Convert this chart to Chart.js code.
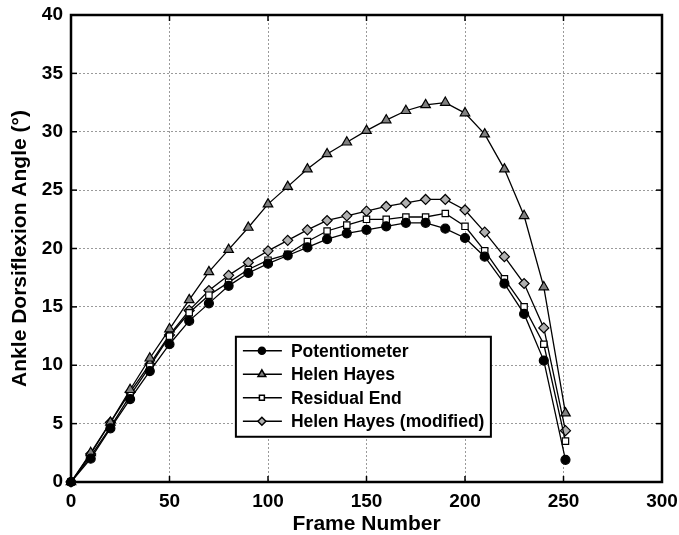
<!DOCTYPE html>
<html>
<head>
<meta charset="utf-8">
<script src="https://cdn.jsdelivr.net/npm/chart.js@4"></script>
<style>
  html, body { margin: 0; padding: 0; background: #fff; }
  #wrap { width: 679px; height: 535px; }
</style>
</head>
<body>
<div id="wrap"><canvas id="ankleChart" width="679" height="535"></canvas></div>
<script>
const frames = [0, 10, 20, 30, 40, 50, 60, 70, 80, 90, 100, 110, 120, 130, 140, 150, 160, 170, 180, 190, 200, 210, 220, 230, 240, 251];
const potentiometer = [0, 2.0, 4.6, 7.1, 9.5, 11.8, 13.8, 15.3, 16.8, 17.9, 18.7, 19.4, 20.1, 20.8, 21.3, 21.6, 21.9, 22.2, 22.2, 21.7, 20.9, 19.3, 17.0, 14.4, 10.4, 1.9];
const helenHayes = [0, 2.5, 5.1, 7.9, 10.6, 13.1, 15.6, 18.0, 19.9, 21.8, 23.8, 25.3, 26.8, 28.1, 29.1, 30.1, 31.0, 31.8, 32.3, 32.5, 31.6, 29.8, 26.8, 22.8, 16.7, 5.9];
const residualEnd = [0, 2.2, 4.7, 7.4, 9.9, 12.5, 14.5, 16.0, 17.1, 18.2, 19.0, 19.5, 20.6, 21.5, 22.0, 22.5, 22.5, 22.7, 22.7, 23.0, 21.9, 19.8, 17.4, 15.0, 11.8, 3.5];
const helenHayesMod = [0, 2.4, 5.1, 7.7, 10.1, 12.6, 14.7, 16.4, 17.7, 18.8, 19.8, 20.7, 21.6, 22.4, 22.8, 23.2, 23.6, 23.9, 24.2, 24.2, 23.3, 21.4, 19.3, 17.0, 13.2, 4.4];
const xTicks = [0, 50, 100, 150, 200, 250, 300];
const yTicks = [0, 5, 10, 15, 20, 25, 30, 35, 40];

const FONT = 'Liberation Sans, Arial, sans-serif';

function pts(ys) { return frames.map((x, i) => ({ x: x, y: ys[i] })); }

const seriesStyle = [
  { label: 'Potentiometer', data: potentiometer, pointStyle: 'circle', radius: 4.5, bg: '#000' },
  { label: 'Helen Hayes', data: helenHayes, pointStyle: 'triangle', radius: 5.5, bg: '#808080' },
  { label: 'Residual End', data: residualEnd, pointStyle: 'rect', radius: 4.5, bg: '#fff' },
  { label: 'Helen Hayes (modified)', data: helenHayesMod, pointStyle: 'rectRot', radius: 5, bg: '#b0b0b0' }
];

// frame, inward ticks and in-plot legend
const framePlugin = {
  id: 'framePlugin',
  afterDraw(chart) {
    const { ctx, chartArea: a, scales } = chart;
    ctx.save();
    ctx.strokeStyle = '#000';
    ctx.lineWidth = 1.5;
    xTicks.forEach(v => {
      const px = scales.x.getPixelForValue(v);
      ctx.beginPath(); ctx.moveTo(px, a.bottom); ctx.lineTo(px, a.bottom - 6); ctx.stroke();
      ctx.beginPath(); ctx.moveTo(px, a.top); ctx.lineTo(px, a.top + 6); ctx.stroke();
    });
    yTicks.forEach(v => {
      const py = scales.y.getPixelForValue(v);
      ctx.beginPath(); ctx.moveTo(a.left, py); ctx.lineTo(a.left + 6, py); ctx.stroke();
      ctx.beginPath(); ctx.moveTo(a.right, py); ctx.lineTo(a.right - 6, py); ctx.stroke();
    });
    ctx.lineWidth = 2.5;
    ctx.strokeRect(a.left, a.top, a.right - a.left, a.bottom - a.top);

    // legend box
    const bx = a.left + (a.right - a.left) * 0.279;
    const by = a.top + (a.bottom - a.top) * 0.689;
    const bw = 255, bh = 100;
    ctx.fillStyle = '#fff';
    ctx.fillRect(bx, by, bw, bh);
    ctx.lineWidth = 2;
    ctx.strokeRect(bx, by, bw, bh);
    ctx.font = 'bold 17.5px ' + FONT;
    ctx.textBaseline = 'middle';
    chart.data.datasets.forEach((ds, i) => {
      const ry = by + 14 + i * 23.5;
      ctx.strokeStyle = '#000';
      ctx.lineWidth = 1.5;
      ctx.beginPath(); ctx.moveTo(bx + 7, ry); ctx.lineTo(bx + 46, ry); ctx.stroke();
      ctx.fillStyle = ds.pointBackgroundColor;
      Chart.helpers.drawPoint(ctx, { pointStyle: ds.pointStyle, radius: ds.pointRadius - 1, borderWidth: 1.2, rotation: 0 }, bx + 26, ry);
      ctx.fillStyle = '#000';
      ctx.fillText(ds.label, bx + 55, ry + 1);
    });
    ctx.restore();
  }
};

new Chart(document.getElementById('ankleChart').getContext('2d'), {
  type: 'line',
  data: {
    datasets: seriesStyle.map(s => ({
      label: s.label,
      data: pts(s.data),
      borderColor: '#000',
      borderWidth: 1.3,
      pointStyle: s.pointStyle,
      pointRadius: s.radius,
      pointBackgroundColor: s.bg,
      pointBorderColor: '#000',
      pointBorderWidth: 1.2,
      fill: false,
      tension: 0,
      clip: false
    }))
  },
  options: {
    responsive: false,
    animation: false,
    layout: { padding: { top: 15, right: 17, left: 0, bottom: 0 } },
    plugins: { legend: { display: false }, tooltip: { enabled: false } },
    scales: {
      x: {
        type: 'linear', min: 0, max: 300,
        afterBuildTicks: s => { s.ticks = xTicks.map(v => ({ value: v })); },
        afterFit: s => { s.height = 53; s.paddingLeft = 0; s.paddingRight = 0; },
        grid: { color: '#9a9a9a', lineWidth: 1, drawTicks: false },
        border: { display: false, dash: [2, 2] },
        ticks: { color: '#000', padding: 8, font: { family: FONT, size: 19, weight: 'bold' }, maxRotation: 0 },
        title: { display: true, text: 'Frame Number', color: '#000', padding: { top: 0, bottom: 0 }, font: { family: FONT, size: 21, weight: 'bold', lineHeight: 1 } }
      },
      y: {
        type: 'linear', min: 0, max: 40,
        afterBuildTicks: s => { s.ticks = yTicks.map(v => ({ value: v })); },
        afterFit: s => { s.width = 71; s.paddingTop = 0; s.paddingBottom = 0; },
        grid: { color: '#9a9a9a', lineWidth: 1, drawTicks: false },
        border: { display: false, dash: [2, 2] },
        ticks: { color: '#000', padding: 8, font: { family: FONT, size: 19, weight: 'bold' } },
        title: { display: true, text: 'Ankle Dorsiflexion Angle (°)', color: '#000', padding: { top: 10, bottom: 0 }, font: { family: FONT, size: 21, weight: 'bold', lineHeight: 1 } }
      }
    }
  },
  plugins: [framePlugin]
});
</script>
</body>
</html>
